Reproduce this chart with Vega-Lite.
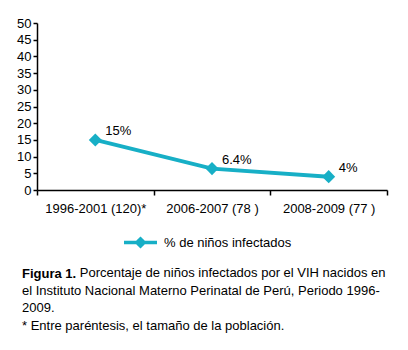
{
  "$schema": "https://vega.github.io/schema/vega-lite/v6.json",
  "autosize": "none",
  "width": 350,
  "height": 167,
  "padding": {"left": 37, "top": 23, "right": 21, "bottom": 160},
  "background": "white",
  "config": {
    "font": "Liberation Sans",
    "view": {"stroke": null},
    "axis": {"labelFont": "Liberation Sans", "labelColor": "#000", "domainColor": "#000", "tickColor": "#000", "labelFontSize": 13, "grid": false, "domainWidth": 1.5, "tickWidth": 1.5}
  },
  "title": {
    "text": "Figura 1.",
    "subtitle": [
      "\u200b\u00a0\u00a0\u00a0\u00a0\u00a0\u00a0\u00a0\u00a0\u00a0\u00a0\u00a0\u00a0\u00a0\u00a0\u00a0\u00a0Porcentaje de niños infectados por el VIH nacidos en",
      "el Instituto Nacional Materno Perinatal de Perú, Periodo 1996-",
      "2009.",
      "* Entre paréntesis, el tamaño de la población."
    ],
    "orient": "bottom",
    "anchor": "start",
    "frame": "group",
    "dx": -15,
    "offset": 14,
    "font": "Liberation Sans",
    "fontSize": 13,
    "fontWeight": "bold",
    "color": "#000",
    "subtitleFont": "Liberation Sans",
    "subtitleFontSize": 13,
    "subtitleColor": "#000",
    "subtitleFontWeight": "normal",
    "subtitleLineHeight": 17.5,
    "subtitlePadding": -14
  },
  "data": {
    "values": [
      {"periodo": "1996-2001 (120)*", "pct": 15, "label": "15%", "serie": "% de niños infectados"},
      {"periodo": "2006-2007 (78 )", "pct": 6.4, "label": "6.4%", "serie": "% de niños infectados"},
      {"periodo": "2008-2009 (77 )", "pct": 4, "label": "4%", "serie": "% de niños infectados"}
    ]
  },
  "encoding": {
    "x": {
      "field": "periodo", "type": "nominal", "sort": null, "title": null,
      "scale": {"paddingInner": 0, "paddingOuter": 0},
      "axis": {"labelAngle": 0, "tickBand": "extent", "tickSize": 5, "labelPadding": 7}
    },
    "y": {
      "field": "pct", "type": "quantitative", "title": null,
      "scale": {"domain": [0, 50], "nice": false},
      "axis": {"values": [0,5,10,15,20,25,30,35,40,45,50], "tickSize": 4, "labelPadding": 2}
    }
  },
  "layer": [
    {
      "mark": {"type": "line", "strokeWidth": 4},
      "encoding": {
        "color": {
          "field": "serie", "type": "nominal",
          "scale": {"range": ["#17AFC6"]},
          "legend": {
            "title": null,
            "orient": "none",
            "legendX": 85,
            "legendY": 201,
            "symbolType": "M-1,0L1,0M-0.22,0L0,-0.22L0.22,0L0,0.22Z",
            "symbolSize": 1089,
            "symbolStrokeWidth": 3.5,
            "symbolFillColor": "#17AFC6",
            "symbolStrokeColor": "#17AFC6",
            "labelFont": "Liberation Sans",
            "labelFontSize": 13,
            "labelColor": "#000",
            "labelOffset": 5
          }
        }
      }
    },
    {
      "mark": {"type": "point", "shape": "diamond", "filled": true, "size": 170, "color": "#17AFC6", "opacity": 1}
    },
    {
      "mark": {"type": "text", "align": "left", "dx": 10, "dy": -9, "font": "Liberation Sans", "fontSize": 13, "color": "#000"},
      "encoding": {"text": {"field": "label"}}
    }
  ]
}
